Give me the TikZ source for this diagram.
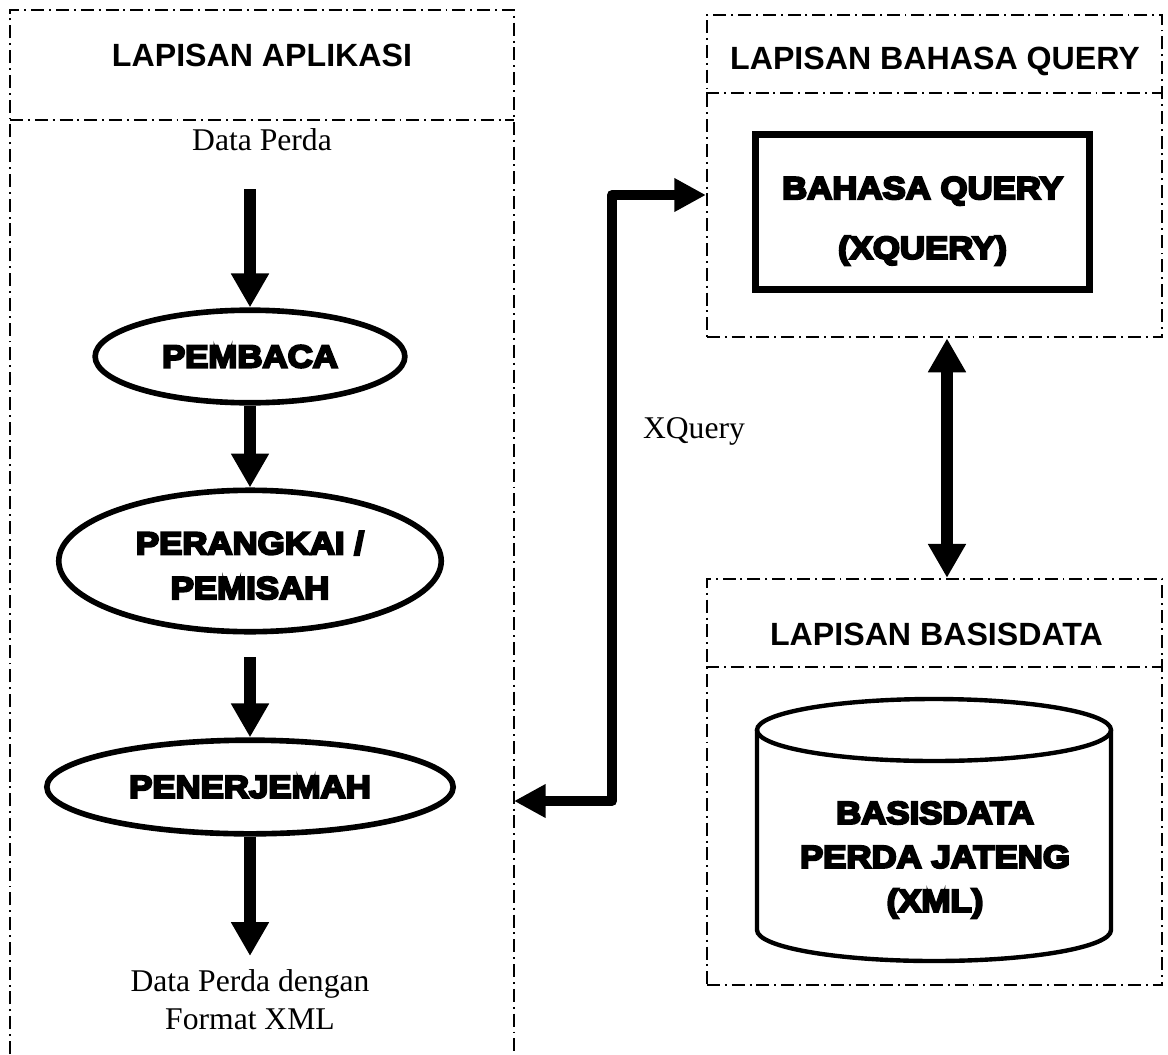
\documentclass[tikz,border=0pt]{standalone}
\usepackage{fontspec}
\setmainfont{Liberation Serif}
\newfontfamily\headfont{Liberation Sans}
\newfontfamily\heavyfont[UprightFont={* Bold},FakeBold=7,FakeStretch=1.1]{Liberation Sans}
\usetikzlibrary{arrows.meta}
\usetikzlibrary{shapes.geometric}

\tikzset{
  bigtip/.tip={Triangle[length=19.3pt,width=20.4pt]},
  smalltip/.tip={Triangle[length=18pt,width=18pt]},
  layer/.style={line width=1.1pt, dash pattern=on 7.4pt off 2.8pt on 1.1pt off 2.8pt},
  layerbox/.style={layer, draw, rectangle, inner sep=0pt},
  heading/.style={font=\headfont\bfseries\fontsize{18.3}{22}\selectfont, anchor=base, inner sep=0pt},
  plain/.style={font=\fontsize{18}{21.5}\selectfont, inner sep=0pt, align=center},
  proc/.style={draw, ellipse, line width=3.2pt, inner sep=0pt, align=center, font=\heavyfont\fontsize{18}{25.5}\selectfont},
  qbox/.style={draw, rectangle, line width=4pt, inner sep=0pt, align=center, font=\heavyfont\fontsize{18}{34}\selectfont},
  flow/.style={line width=6.5pt, -bigtip},
  link/.style={line width=5.7pt, line join=round, smalltip-smalltip}
}

\begin{document}
\begin{tikzpicture}[x=0.02cm, y=-0.02cm]
        \useasboundingbox (0,0) rectangle (1168,1054);
        \draw[layer] (10,1054) -- (10,10) -- (514,10) -- (514,1054);
        \draw[layer] (10,120) -- (514,120);
        \node[heading] (apphead) at (262,67) {LAPISAN APLIKASI};
        \node[layerbox, minimum width=259.1pt, minimum height=183.7pt] (qlayer) at (934.5,176) {};
        \draw[layer] (706,93) -- (1163,93);
        \node[heading] (qhead) at (935,70) {LAPISAN BAHASA QUERY};
        \node[layerbox, minimum width=259.1pt, minimum height=231.3pt] (dblayer) at (934.5,782) {};
        \draw[layer] (706,667) -- (1163,667);
        \node[heading] (dbhead) at (936.5,645) {LAPISAN BASISDATA};
        \node[plain, anchor=base] (datain) at (262,151) {Data Perda};
        \node[proc, minimum width=176.3pt, minimum height=52.7pt] (pembaca) at (250,356.5) {PEMBACA};
        \node[proc, minimum width=217.7pt, minimum height=80.5pt] (perangkai) at (250,561) {\rule{0pt}{18pt}PERANGKAI /\\PEMISAH};
        \node[proc, minimum width=231.3pt, minimum height=53.3pt] (penerjemah) at (250,787) {PENERJEMAH};
        \node[plain, anchor=north] (dataout) at (250,969.5) {Data Perda dengan\\Format XML};
        \node[qbox, minimum width=190.5pt, minimum height=87.9pt] (query) at (922.5,212) {\rule{0pt}{23pt}BAHASA QUERY\\(XQUERY)};
        \node[plain, anchor=base] (xqlabel) at (694,438) {XQuery};
        \draw[line width=2.5pt] (934,730) ellipse [x radius=177, y radius=31];
        \draw[line width=2.5pt] (757,730) -- (757,930) arc [start angle=180, end angle=0, x radius=177, y radius=31] -- (1111,730);
        \node[font=\heavyfont\fontsize{18}{25}\selectfont, align=center, inner sep=0pt] (dbtext) at (935,860) {BASISDATA\\PERDA JATENG\\(XML)};
        \draw[flow, shorten <=21.5pt] (datain.south -| pembaca.north) -- (pembaca.north);
        \draw[flow] (pembaca.south) -- (perangkai.north);
        \draw[flow, shorten <=13pt] (perangkai.south) -- (penerjemah.north);
        \draw[flow, shorten >=7.7pt] (penerjemah.south) -- (dataout.north);
        \coordinate (appedge) at (514,801);
        \coordinate (bend) at (612,195);
        \draw[link] (appedge) -| (bend) -- (bend -| qlayer.west);
        \draw[flow, bigtip-bigtip] ([xshift=7.1pt]qlayer.south) -- ([xshift=7.1pt]dblayer.north);
      \end{tikzpicture}
\end{document}
